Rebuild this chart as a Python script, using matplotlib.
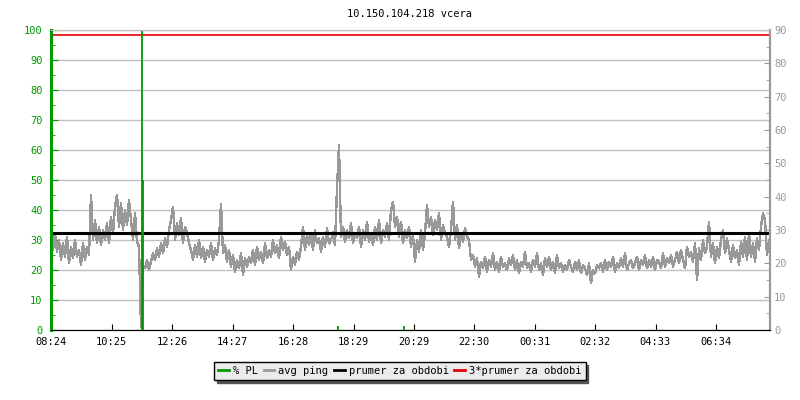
import numpy as np
import matplotlib
matplotlib.use("Agg")
import matplotlib.pyplot as plt
from matplotlib.lines import Line2D
from matplotlib.ticker import MultipleLocator

plt.rcParams['font.family'] = ['DejaVu Sans Mono']

title = "10.150.104.218 vcera"
xlabels = ["08:24", "10:25", "12:26", "14:27", "16:28", "18:29",
           "20:29", "22:30", "00:31", "02:32", "04:33", "06:34"]
step_min = 4          # one avg ping sample every 4 minutes
span_min = 1438

# avg ping [ms], right axis
avg_ping = [
    28, 24, 29, 23.5, 27, 21, 26, 22, 28, 20,
    25, 21.5, 27, 22, 24, 19.5, 26, 21, 25, 22.5,
    40.5, 27, 33, 26, 31, 25.5, 30, 27, 32, 26,
    34, 29, 37, 40.5, 31, 38, 30, 36, 31.5, 39,
    33, 27, 35, 26.5, 25, 1, 19, 18.5, 21, 18,
    20.5, 23, 21, 24.5, 22, 26, 23, 27.5, 25, 30,
    33, 37, 27, 32, 28.5, 33.5, 26, 31, 29, 26,
    24, 21, 25.5, 22, 27, 21.5, 25, 20.5, 24, 22,
    26, 21, 24.5, 22.5, 27, 37.8, 23, 25.5, 20.5, 24,
    19, 22.5, 17.5, 21, 18.5, 23, 16.5, 21.5, 19, 22,
    20, 24, 19.5, 25, 21, 23.5, 20, 26, 21.5, 24,
    22, 27, 23, 25.5, 21.5, 28, 24, 26.5, 22.5, 25,
    18, 22, 19.5, 23.5, 21, 25, 31, 24, 28.5, 25.5,
    29, 24, 30, 26, 27.5, 23.5, 28, 25, 30.5, 26,
    27, 29.5, 25.5, 42.5, 55.5, 28, 31, 26.5, 30, 27.5,
    32, 26, 29, 27.5, 31, 25, 30, 27, 32.5, 26.5,
    29, 25.5, 31, 27, 33, 26, 30, 28, 32, 27,
    36, 38.5, 31, 34, 28, 32.5, 26, 30, 27.5, 31,
    25, 28.5, 20.5, 27, 23.5, 30, 24, 29, 37.5, 31,
    34, 28.5, 33, 30, 35, 27, 31.5, 29, 28, 25,
    30, 38.5, 27, 31.5, 24.5, 29, 26.5, 30.5, 28, 27,
    21, 22.5, 19, 21.5, 16, 20.5, 18.5, 22, 17.5, 21,
    19, 23, 18, 20.5, 17.5, 22, 19, 20, 18, 21.5,
    19.5, 22.5, 18, 21, 17, 20.5, 19, 23.5, 18.5, 20,
    17.5, 21, 19, 23, 18, 20, 16.5, 21.5, 19, 22,
    18, 20.5, 17, 22.5, 18.5, 20, 17.5, 19.5, 18, 21,
    19, 17.5, 20.5, 18, 21, 17, 19.5, 18.5, 16.5, 20,
    14, 18, 17, 19.5, 18.5, 20, 17.5, 21, 18, 20.5,
    19, 22, 17.5, 20, 18.5, 21.5, 19, 23, 18, 20,
    21, 18.5, 20, 22, 18, 21, 19.5, 22.5, 18.5, 21,
    19, 22, 18, 21, 20.5, 18.5, 23, 19, 21.5, 20,
    22.5, 19, 21, 23.5, 20, 24, 21, 18.5, 25, 22,
    23.5, 20.5, 26, 15, 24.5, 21, 27, 23, 25, 32.5,
    22, 26, 20, 25, 21.5, 27, 30, 23, 27.5, 24,
    20.5, 25.5, 21.5, 24, 19.5, 26.5, 22, 28, 21, 29,
    22, 26, 20.5, 27.5, 24, 31, 35, 33, 22.5, 27,
]

# packet loss events [minutes from start, %]
pl_min = [182, 184, 574, 706]
pl_pct = [100, 50, 1.5, 1.5]

avg_period = 29.2      # prumer za obdobi [ms]
triple_avg = 88.5      # 3*prumer za obdobi [ms]

GREEN = '#009900'
GRAY = '#999999'
GRID = '#c0c0c0'
RED = '#e60000'

t = np.arange(len(avg_ping)) * step_min


def minutes_from_start(lbl, start="08:24"):
    h, m = map(int, lbl.split(':'))
    h0, m0 = map(int, start.split(':'))
    return ((h * 60 + m) - (h0 * 60 + m0)) % 1440


xticks = [minutes_from_start(l) for l in xlabels]

fig = plt.figure(figsize=(8, 4), dpi=100)
ax = fig.add_axes([51 / 800, 70 / 400, 719 / 800, 300 / 400])
ax2 = ax.twinx()

ax.set_xlim(0, span_min)
ax.set_ylim(0, 100)
ax2.set_ylim(0, 90)

ax.yaxis.grid(True, color=GRID, lw=1)
ax.set_axisbelow(True)

ax2.plot(t, avg_ping, color=GRAY, lw=1, antialiased=False)
ax2.axhline(avg_period, color='black', lw=2.2)
ax2.axhline(triple_avg, color=RED, lw=1.2)
ax2.vlines(pl_min, 0, pl_pct, color=GREEN, lw=1.3, transform=ax.transData)

# axes styling
for a in (ax, ax2):
    a.spines['top'].set_color(GRID)
    a.spines['bottom'].set_color('black')
    a.spines['left'].set_color(GREEN)
    a.spines['left'].set_linewidth(2)
    a.spines['right'].set_color(GRAY)
    a.spines['right'].set_linewidth(1.5)

ax.set_xticks(xticks)
ax.set_xticklabels(xlabels)
ax.tick_params(axis='x', direction='in', length=4, color='black',
               labelsize=7.5, pad=5)

ax.yaxis.set_major_locator(MultipleLocator(10))
ax.yaxis.set_minor_locator(MultipleLocator(5))
ax.tick_params(axis='y', which='major', direction='in', length=5,
               color=GREEN, labelcolor=GREEN, labelsize=7.5, pad=6)
ax.tick_params(axis='y', which='minor', direction='in', length=3, color=GREEN)

ax2.yaxis.set_major_locator(MultipleLocator(10))
ax2.yaxis.set_minor_locator(MultipleLocator(5))
ax2.tick_params(axis='y', which='major', direction='in', length=4,
                color=GRAY, labelcolor=GRAY, labelsize=7.5, pad=3)
ax2.tick_params(axis='y', which='minor', direction='in', length=3, color=GRAY)

fig.text(410 / 800, 1 - 14 / 400, title, ha='center', va='center', fontsize=7.5)

handles = [Line2D([], [], color=GREEN, lw=2),
           Line2D([], [], color=GRAY, lw=2),
           Line2D([], [], color='black', lw=2),
           Line2D([], [], color=RED, lw=2)]
labels = ["% PL", "avg ping", "prumer za obdobi", "3*prumer za obdobi"]
leg = fig.legend(handles, labels, loc='center', ncol=4,
                 bbox_to_anchor=(400 / 800, 1 - 371 / 400),
                 fontsize=7.5, frameon=True, fancybox=False,
                 shadow={'color': '#555555', 'alpha': 1},
                 facecolor='#ebebeb', edgecolor='black', framealpha=1,
                 handlelength=1.0, handletextpad=0.4, columnspacing=0.55,
                 borderpad=0.4, borderaxespad=0)
leg.get_frame().set_linewidth(1)

fig.savefig('out.png', dpi=100)
